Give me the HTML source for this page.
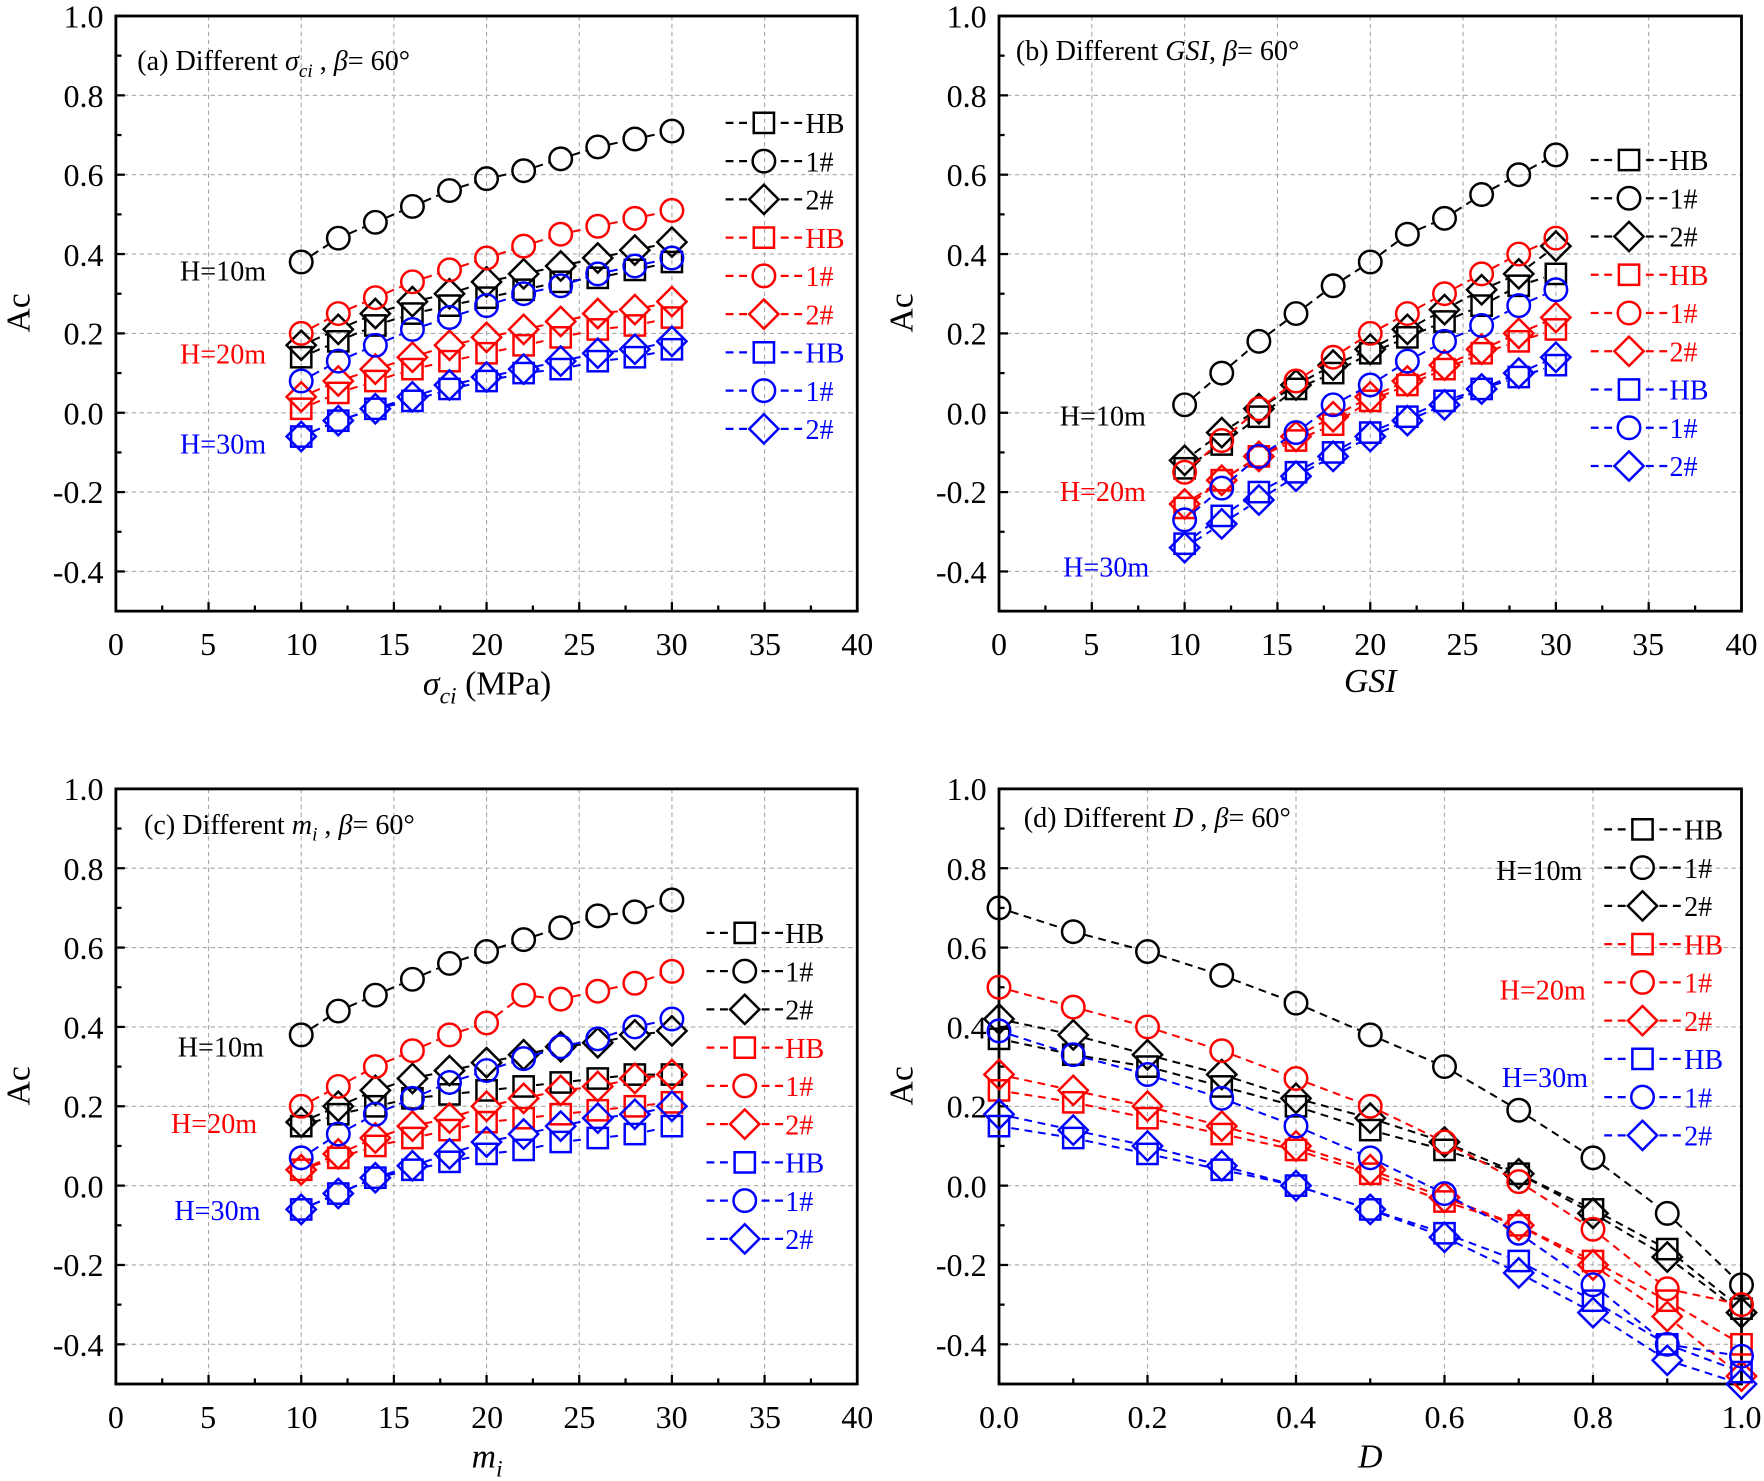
<!DOCTYPE html>
<html><head><meta charset="utf-8"><style>
html,body{margin:0;padding:0;background:#fff}
svg{display:block}
text{font-family:"Liberation Serif",serif}
.tk{font-size:28.5px;fill:#000}
.an{font-size:25px}
.lg{font-size:25px}
</style></head><body>
<svg id="s" width="1764" height="1481" viewBox="0 0 1568 1316" xmlns="http://www.w3.org/2000/svg">
<g id="g"></g>
<g class="tk" text-anchor="end">
<text x="92" y="24">1.0</text><text x="92" y="95">0.8</text><text x="92" y="165">0.6</text><text x="92" y="236">0.4</text><text x="92" y="306">0.2</text><text x="92" y="377">0.0</text><text x="92" y="447">-0.2</text><text x="92" y="518">-0.4</text>
<text x="877" y="24">1.0</text><text x="877" y="95">0.8</text><text x="877" y="165">0.6</text><text x="877" y="236">0.4</text><text x="877" y="306">0.2</text><text x="877" y="377">0.0</text><text x="877" y="447">-0.2</text><text x="877" y="518">-0.4</text>
<text x="92" y="711">1.0</text><text x="92" y="782">0.8</text><text x="92" y="852">0.6</text><text x="92" y="923">0.4</text><text x="92" y="993">0.2</text><text x="92" y="1064">0.0</text><text x="92" y="1134">-0.2</text><text x="92" y="1205">-0.4</text>
<text x="877" y="711">1.0</text><text x="877" y="782">0.8</text><text x="877" y="852">0.6</text><text x="877" y="923">0.4</text><text x="877" y="993">0.2</text><text x="877" y="1064">0.0</text><text x="877" y="1134">-0.2</text><text x="877" y="1205">-0.4</text>
</g>
<g class="tk" text-anchor="middle">
<text x="103" y="582">0</text><text x="185" y="582">5</text><text x="268" y="582">10</text><text x="350" y="582">15</text><text x="433" y="582">20</text><text x="515" y="582">25</text><text x="597" y="582">30</text><text x="680" y="582">35</text><text x="762" y="582">40</text>
<text x="888" y="582">0</text><text x="970" y="582">5</text><text x="1053" y="582">10</text><text x="1135" y="582">15</text><text x="1218" y="582">20</text><text x="1300" y="582">25</text><text x="1383" y="582">30</text><text x="1465" y="582">35</text><text x="1548" y="582">40</text>
<text x="103" y="1269">0</text><text x="185" y="1269">5</text><text x="268" y="1269">10</text><text x="350" y="1269">15</text><text x="433" y="1269">20</text><text x="515" y="1269">25</text><text x="597" y="1269">30</text><text x="680" y="1269">35</text><text x="762" y="1269">40</text>
<text x="888" y="1269">0.0</text><text x="1020" y="1269">0.2</text><text x="1152" y="1269">0.4</text><text x="1284" y="1269">0.6</text><text x="1416" y="1269">0.8</text><text x="1548" y="1269">1.0</text>
</g>
<g font-size="30" text-anchor="middle">
<text transform="translate(26,278) rotate(-90)">Ac</text>
<text transform="translate(811,278) rotate(-90)">Ac</text>
<text transform="translate(26,965) rotate(-90)">Ac</text>
<text transform="translate(811,965) rotate(-90)">Ac</text>
<text x="433" y="617"><tspan font-style="italic">σ</tspan><tspan font-style="italic" font-size="21" dy="8">ci</tspan><tspan dy="-8"> (MPa)</tspan></text>
<text x="1218" y="615" font-style="italic">GSI</text>
<text x="433" y="1304" font-style="italic">m<tspan font-size="21" dy="8">i</tspan></text>
<text x="1218" y="1304" font-style="italic">D</text>
</g>
<g class="an">
<text x="122" y="62">(a) Different <tspan font-style="italic">σ</tspan><tspan font-style="italic" font-size="17" dy="6">ci</tspan><tspan dy="-6"> , </tspan><tspan font-style="italic">β</tspan>= 60°</text>
<text x="160" y="249">H=10m</text><text x="160" y="323" fill="#f00">H=20m</text><text x="160" y="403" fill="#00f">H=30m</text>
<text x="903" y="53">(b) Different <tspan font-style="italic">GSI</tspan>, <tspan font-style="italic">β</tspan>= 60°</text>
<text x="942" y="378">H=10m</text><text x="942" y="445" fill="#f00">H=20m</text><text x="945" y="512" fill="#00f">H=30m</text>
<text x="128" y="741">(c) Different <tspan font-style="italic">m</tspan><tspan font-style="italic" font-size="17" dy="6">i</tspan><tspan dy="-6"> , </tspan><tspan font-style="italic">β</tspan>= 60°</text>
<text x="158" y="939">H=10m</text><text x="152" y="1007" fill="#f00">H=20m</text><text x="155" y="1084" fill="#00f">H=30m</text>
<text x="910" y="735">(d) Different <tspan font-style="italic">D</tspan> , <tspan font-style="italic">β</tspan>= 60°</text>
<text x="1330" y="782">H=10m</text><text x="1333" y="888" fill="#f00">H=20m</text><text x="1335" y="966" fill="#00f">H=30m</text>
</g>
<g class="lg">
<text x="716" y="118">HB</text><text x="716" y="152">1#</text><text x="716" y="186">2#</text>
<text x="716" y="220" fill="#f00">HB</text><text x="716" y="254" fill="#f00">1#</text><text x="716" y="288" fill="#f00">2#</text>
<text x="716" y="322" fill="#00f">HB</text><text x="716" y="356" fill="#00f">1#</text><text x="716" y="390" fill="#00f">2#</text>
<text x="1484" y="151">HB</text><text x="1484" y="185">1#</text><text x="1484" y="219">2#</text>
<text x="1484" y="253" fill="#f00">HB</text><text x="1484" y="287" fill="#f00">1#</text><text x="1484" y="321" fill="#f00">2#</text>
<text x="1484" y="355" fill="#00f">HB</text><text x="1484" y="389" fill="#00f">1#</text><text x="1484" y="423" fill="#00f">2#</text>
<text x="698" y="838">HB</text><text x="698" y="872">1#</text><text x="698" y="906">2#</text>
<text x="698" y="940" fill="#f00">HB</text><text x="698" y="974" fill="#f00">1#</text><text x="698" y="1008" fill="#f00">2#</text>
<text x="698" y="1042" fill="#00f">HB</text><text x="698" y="1076" fill="#00f">1#</text><text x="698" y="1110" fill="#00f">2#</text>
<text x="1497" y="746">HB</text><text x="1497" y="780">1#</text><text x="1497" y="814">2#</text>
<text x="1497" y="848" fill="#f00">HB</text><text x="1497" y="882" fill="#f00">1#</text><text x="1497" y="916" fill="#f00">2#</text>
<text x="1497" y="950" fill="#00f">HB</text><text x="1497" y="984" fill="#00f">1#</text><text x="1497" y="1018" fill="#00f">2#</text>
</g>
</svg>
<script>
var NS="http://www.w3.org/2000/svg",G=document.getElementById("g");
function el(t,a){var e=document.createElementNS(NS,t);for(var k in a)e.setAttribute(k,a[k]);G.appendChild(e);return e;}
var C=["#000","#f00","#00f"];
function mk(type,x,y,c){var r=10;
 if(type==0)el("rect",{x:x-r+1,y:y-r+1,width:2*r-2,height:2*r-2,fill:"none",stroke:c,"stroke-width":2.2});
 else if(type==1)el("circle",{cx:x,cy:y,r:r,fill:"none",stroke:c,"stroke-width":2.2});
 else el("polygon",{points:(x)+","+(y-13)+" "+(x+13)+","+y+" "+x+","+(y+13)+" "+(x-13)+","+y,fill:"none",stroke:c,"stroke-width":2.2});}
function panel(P){
 var L=P.L,R=P.R,T=P.T,B=P.B;
 function X(v){return L+(v-P.x0)/(P.x1-P.x0)*(R-L);} function Y(v){return T+(1-v)/1.5*(B-T);}
 for(var i=0;i<P.xt.length;i++){var x=X(P.xt[i]);el("line",{x1:x,x2:x,y1:T,y2:B,stroke:"#aaa","stroke-width":1,"stroke-dasharray":"4,3"});}
 for(var v=-0.4;v<1.0;v+=0.2){var y=Y(v);el("line",{x1:L,x2:R,y1:y,y2:y,stroke:"#aaa","stroke-width":1,"stroke-dasharray":"4,3"});}
 for(var i=0;i<P.xm.length;i++){var x=X(P.xm[i]);el("line",{x1:x,x2:x,y1:B,y2:B-(i%2==0?8:5),stroke:"#000","stroke-width":2});}
 for(var k=0;k<=15;k++){var y=T+k*(B-T)/15;el("line",{x1:L,x2:L+(k%2==0?8:5),y1:y,y2:y,stroke:"#000","stroke-width":2});}
 el("rect",{x:L,y:T,width:R-L,height:B-T,fill:"none",stroke:"#000","stroke-width":2.5});
 for(var s=0;s<9;s++){var d=P.d[s],c=C[Math.floor(s/3)],tp=s%3;
  for(var i=0;i+1<d.length;i++){var x1=X(P.xs[i]),y1=Y(d[i]),x2=X(P.xs[i+1]),y2=Y(d[i+1]);
   var dx=x2-x1,dy=y2-y1,l=Math.sqrt(dx*dx+dy*dy),g=11;if(l<2*g+2)continue;
   el("line",{x1:x1+dx/l*g,y1:y1+dy/l*g,x2:x2-dx/l*g,y2:y2-dy/l*g,stroke:c,"stroke-width":1.8,"stroke-dasharray":"7,5"});}
  for(var i=0;i<d.length;i++)mk(tp,X(P.xs[i]),Y(d[i]),c);}
 for(var s=0;s<9;s++){var c=C[Math.floor(s/3)],y=P.ly+s*34;
  el("line",{x1:P.lx-34,x2:P.lx-15,y1:y,y2:y,stroke:c,"stroke-width":2,"stroke-dasharray":"7,5"});
  el("line",{x1:P.lx+15,x2:P.lx+34,y1:y,y2:y,stroke:c,"stroke-width":2,"stroke-dasharray":"7,5"});
  mk(s%3,P.lx,y,c);}
}
var xs=[10,12,14,16,18,20,22,24,26,28,30],xd=[0,.1,.2,.3,.4,.5,.6,.7,.8,.9,1];
var xt=[0,5,10,15,20,25,30,35,40],xm=[];for(var i=0;i<=16;i++)xm.push(i*2.5);
var xtd=[0,.2,.4,.6,.8,1],xmd=[];for(var i=0;i<=10;i++)xmd.push(i*.1);
panel({L:103,R:762,T:14,B:543,x0:0,x1:40,xs:xs,xt:xt,xm:xm,lx:679,ly:109,d:[
[.14,.18,.22,.25,.27,.29,.31,.33,.34,.36,.38],[.38,.44,.48,.52,.56,.59,.61,.64,.67,.69,.71],[.17,.21,.25,.28,.30,.33,.35,.37,.39,.41,.43],
[.01,.05,.08,.11,.13,.15,.17,.19,.21,.22,.24],[.20,.25,.29,.33,.36,.39,.42,.45,.47,.49,.51],[.04,.08,.11,.14,.17,.19,.21,.23,.25,.26,.28],
[-.06,-.02,.01,.03,.06,.08,.10,.11,.13,.14,.16],[.08,.13,.17,.21,.24,.27,.30,.32,.35,.37,.39],[-.06,-.02,.01,.04,.07,.09,.11,.13,.15,.16,.18]]});
panel({L:888,R:1548,T:14,B:543,x0:0,x1:40,xs:xs,xt:xt,xm:xm,lx:1448,ly:142,d:[
[-.14,-.08,-.01,.06,.10,.15,.19,.23,.27,.32,.35],[.02,.10,.18,.25,.32,.38,.45,.49,.55,.60,.65],[-.12,-.05,.01,.07,.12,.16,.21,.26,.31,.35,.42],
[-.24,-.17,-.11,-.07,-.03,.03,.07,.11,.15,.18,.21],[-.15,-.07,.01,.08,.14,.20,.25,.30,.35,.40,.44],[-.23,-.17,-.11,-.06,-.01,.04,.08,.12,.16,.20,.24],
[-.33,-.26,-.20,-.15,-.10,-.05,-.01,.03,.06,.09,.12],[-.27,-.19,-.11,-.05,.02,.07,.13,.18,.22,.27,.31],[-.34,-.28,-.22,-.16,-.11,-.06,-.02,.02,.06,.10,.14]]});
panel({L:103,R:762,T:701,B:1230,x0:0,x1:40,xs:xs,xt:xt,xm:xm,lx:662,ly:829,d:[
[.15,.18,.20,.22,.23,.24,.25,.26,.27,.28,.28],[.38,.44,.48,.52,.56,.59,.62,.65,.68,.69,.72],[.16,.20,.24,.27,.29,.31,.33,.35,.36,.38,.39],
[.04,.07,.10,.12,.14,.16,.17,.18,.19,.20,.21],[.20,.25,.30,.34,.38,.41,.48,.47,.49,.51,.54],[.04,.08,.12,.15,.17,.20,.22,.24,.25,.27,.28],
[-.06,-.02,.02,.04,.06,.08,.09,.11,.12,.13,.15],[.07,.13,.18,.22,.26,.29,.32,.35,.37,.40,.42],[-.06,-.02,.02,.05,.08,.11,.13,.15,.17,.18,.20]]});
panel({L:888,R:1548,T:701,B:1230,x0:0,x1:1,xs:xd,xt:xtd,xm:xmd,lx:1460,ly:737,d:[
[.37,.33,.30,.25,.20,.14,.09,.03,-.06,-.16,-.31],[.70,.64,.59,.53,.46,.38,.30,.19,.07,-.07,-.25],[.42,.38,.33,.28,.22,.17,.11,.03,-.07,-.18,-.32],
[.24,.21,.17,.13,.09,.03,-.04,-.10,-.19,-.29,-.40],[.50,.45,.40,.34,.27,.20,.11,.01,-.11,-.26,-.30],[.28,.24,.20,.15,.10,.04,-.03,-.10,-.20,-.33,-.48],
[.15,.12,.08,.04,0,-.06,-.12,-.19,-.29,-.40,-.47],[.39,.33,.28,.22,.15,.07,-.02,-.12,-.25,-.40,-.43],[.18,.14,.10,.05,0,-.06,-.13,-.22,-.32,-.44,-.50]]});
</script>
</body></html>
